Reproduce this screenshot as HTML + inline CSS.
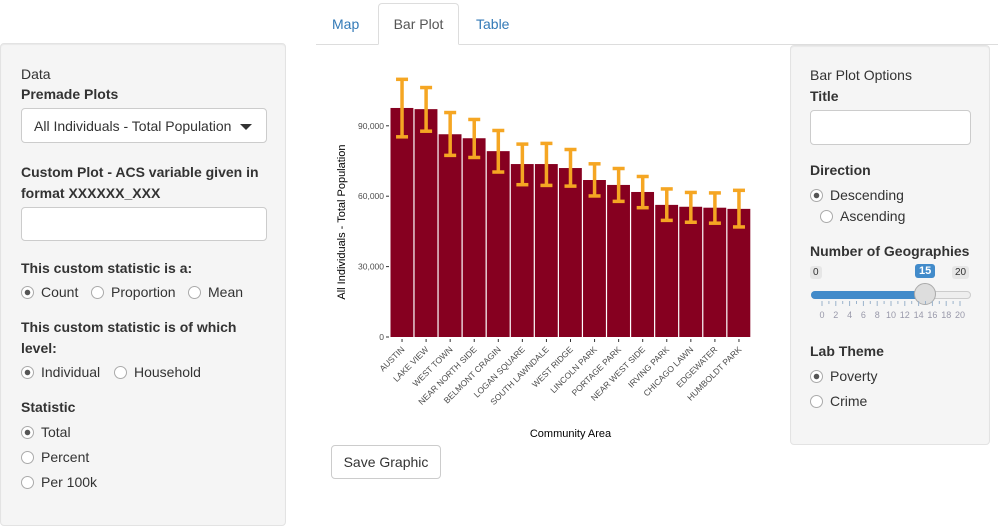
<!DOCTYPE html>
<html><head><meta charset="utf-8">
<style>
*{box-sizing:border-box}
body{margin:0;width:998px;height:530px;position:relative;background:#fff;font-family:"Liberation Sans",Arial,sans-serif;font-size:14px;color:#333;overflow:hidden}
.abs{position:absolute}
.panel{position:absolute;background:#f5f5f5;border:1px solid #e3e3e3;border-radius:4px;box-shadow:inset 0 1px 1px rgba(0,0,0,.05)}
.lbl{position:absolute;font-weight:bold;font-size:14px;line-height:20px}
.txt{position:absolute;font-size:14px;line-height:20px}
.input{position:absolute;background:#fff;border:1px solid #ccc;border-radius:4px}
.radio{position:absolute;font-size:14px;line-height:20px;padding-left:20px}
.radio:before{content:"";position:absolute;left:0;top:4px;width:11px;height:11px;border-radius:50%;border:1px solid #aaa;background:#fff}
.radio.on:before{background:radial-gradient(circle,#555 0 2.5px,#fff 3px)}
.tab{position:absolute;top:4px;height:40px;line-height:40px;font-size:14px;color:#337ab7}
</style></head><body>
<div class="abs" style="left:316px;top:44px;width:682px;height:1px;background:#ddd"></div>
<div class="tab" style="left:332px">Map</div>
<div class="abs" style="left:378px;top:3px;width:81px;height:42px;border:1px solid #ddd;border-bottom-color:#fff;border-radius:4px 4px 0 0;background:#fff;color:#555;text-align:center;line-height:40px">Bar Plot</div>
<div class="tab" style="left:476px">Table</div>

<div class="panel" style="left:0;top:43px;width:286px;height:483px">
<div class="txt" style="left:20px;top:20px">Data</div>
<div class="lbl" style="left:20px;top:40px">Premade Plots</div>
<div class="input" style="left:20px;top:64px;width:246px;height:35px;padding:8px 12px;line-height:18px">All Individuals - Total Population<span style="position:absolute;right:14px;top:15px;border-left:6px solid transparent;border-right:6px solid transparent;border-top:6px solid #333"></span></div>
<div class="lbl" style="left:20px;top:118px;width:250px;line-height:21px">Custom Plot - ACS variable given in format XXXXXX_XXX</div>
<div class="input" style="left:20px;top:163px;width:246px;height:34px"></div>
<div class="lbl" style="left:20px;top:214px">This custom statistic is a:</div>
<div class="radio on" style="left:20px;top:238px">Count</div>
<div class="radio" style="left:90px;top:238px">Proportion</div>
<div class="radio" style="left:187px;top:238px">Mean</div>
<div class="lbl" style="left:20px;top:273px;width:250px;line-height:21px">This custom statistic is of which level:</div>
<div class="radio on" style="left:20px;top:318px">Individual</div>
<div class="radio" style="left:113px;top:318px">Household</div>
<div class="lbl" style="left:20px;top:353px">Statistic</div>
<div class="radio on" style="left:20px;top:378px">Total</div>
<div class="radio" style="left:20px;top:403px">Percent</div>
<div class="radio" style="left:20px;top:428px">Per 100k</div>
</div>

<div class="panel" style="left:790px;top:45px;width:200px;height:400px">
<div class="txt" style="left:19px;top:19px">Bar Plot Options</div>
<div class="lbl" style="left:19px;top:40px">Title</div>
<div class="input" style="left:19px;top:64px;width:161px;height:35px"></div>
<div class="lbl" style="left:19px;top:114px">Direction</div>
<div class="radio on" style="left:19px;top:139px">Descending</div>
<div class="radio" style="left:29px;top:160px">Ascending</div>
<div class="lbl" style="left:19px;top:195px">Number of Geographies</div>
<div class="abs" style="left:19px;top:220px;background:#e6e6e6;font-size:10px;padding:1px 3px;border-radius:3px;color:#333">0</div>
<div class="abs" style="left:161px;top:220px;background:#e6e6e6;font-size:10px;padding:1px 3px;border-radius:3px;color:#333">20</div>
<div class="abs" style="left:124px;top:218px;background:#428bca;color:#fff;font-size:11px;font-weight:bold;padding:1px 4px;border-radius:3px">15</div>
<div class="abs" style="left:20px;top:245px;width:160px;height:8px;border-radius:4px;background:#eee;border:1px solid #ccc"></div>
<div class="abs" style="left:20px;top:245px;width:113px;height:8px;border-radius:4px 0 0 4px;background:#428bca"></div>
<div class="abs" style="left:123px;top:237px;width:22px;height:22px;border-radius:50%;background:#ddd;border:1px solid #aaa"></div>
<svg class="abs" id="sl" style="left:0;top:255px" width="200" height="22"></svg>
<div class="lbl" style="left:19px;top:295px">Lab Theme</div>
<div class="radio on" style="left:19px;top:320px">Poverty</div>
<div class="radio" style="left:19px;top:345px">Crime</div>
</div>

<svg class="abs" id="chart" style="left:0;top:0" width="998" height="450"></svg>

<div class="abs" style="left:331px;top:445px;width:110px;height:34px;border:1px solid #ccc;border-radius:4px;background:#fff;text-align:center;line-height:32px">Save Graphic</div>

<script>
const categories=["AUSTIN","LAKE VIEW","WEST TOWN","NEAR NORTH SIDE","BELMONT CRAGIN","LOGAN SQUARE","SOUTH LAWNDALE","WEST RIDGE","LINCOLN PARK","PORTAGE PARK","NEAR WEST SIDE","IRVING PARK","CHICAGO LAWN","EDGEWATER","HUMBOLDT PARK"];
const values=[97600,97100,86400,84700,79200,73700,73700,72000,66900,64800,61800,56300,55500,55100,54600];
const errUpper=[109800,106300,95650,92700,88000,82200,82500,79900,73800,71800,68400,63100,61600,61400,62500];
const errLower=[85300,87700,77400,76500,70300,64900,64600,64300,60100,57800,55100,49700,48900,48500,46900];
const yTicks=[0,30000,60000,90000];
const yTickLabels=["0","30,000","60,000","90,000"];

const NS="http://www.w3.org/2000/svg";
// slider ticks
const sl=document.getElementById('sl');
for(let i=0;i<=20;i++){
  const x=31+i*6.9;
  const l=document.createElementNS(NS,'line');
  l.setAttribute('x1',x);l.setAttribute('x2',x);l.setAttribute('y1',0);l.setAttribute('y2',i%2?3:5);
  l.setAttribute('stroke','#9bb3cc');
  sl.appendChild(l);
  if(i%2===0){
    const t=document.createElementNS(NS,'text');
    t.setAttribute('x',x);t.setAttribute('y',17);t.setAttribute('text-anchor','middle');
    t.setAttribute('font-size','9');t.setAttribute('fill','#99a');t.setAttribute('font-family','Liberation Sans');
    t.textContent=i;sl.appendChild(t);
  }
}

const svg=document.getElementById('chart');
const X0=390,X1=751,Y0=337,YSCALE=70.4/30000;
const band=(X1-X0)/categories.length;
const xPos=i=>X0+i*band;
const yPos=v=>Y0-v*YSCALE;
function mk(tag,attrs){const e=document.createElementNS(NS,tag);for(const k in attrs)e.setAttribute(k,attrs[k]);svg.appendChild(e);return e;}

yTicks.forEach((t,i)=>{
  const l=mk('line',{x1:X0-4,x2:X0-1,y1:yPos(t),y2:yPos(t),stroke:'#333','stroke-width':1});
  
  
  const tx=mk('text',{x:X0-6,y:yPos(t)+3,'text-anchor':'end','font-size':8.5,fill:'#4d4d4d','font-family':'Liberation Sans'});
  tx.textContent=yTickLabels[i];
  
  
});

categories.forEach((c,i)=>{
  const x=xPos(i);
  const r=mk('rect',{x:x+0.5,y:yPos(values[i]),width:band-1.2,height:Y0-yPos(values[i]),fill:'#860020'});
  
  
  const cx=x+band/2;
  const g=document.createElementNS(NS,'g');
  
  
  g.setAttribute('stroke','#f5a623');g.setAttribute('stroke-width','3.5');
  svg.appendChild(g);
  [[cx,yPos(errUpper[i]),cx,yPos(errLower[i])],[cx-6,yPos(errUpper[i]),cx+6,yPos(errUpper[i])],[cx-6,yPos(errLower[i]),cx+6,yPos(errLower[i])]].forEach(p=>{
    const l=document.createElementNS(NS,'line');
    l.setAttribute('x1',p[0]);l.setAttribute('y1',p[1]);l.setAttribute('x2',p[2]);l.setAttribute('y2',p[3]);
    g.appendChild(l);
  });
  const tk=mk('line',{x1:cx,x2:cx,y1:Y0+2,y2:Y0+5,stroke:'#333','stroke-width':1});
  
  
  const t=mk('text',{x:cx+3,y:Y0+13,'text-anchor':'end','font-size':8.5,fill:'#4d4d4d','font-family':'Liberation Sans',transform:`rotate(-45 ${cx+3} ${Y0+13})`});
  t.textContent=c;
  
  
});

const xt=mk('text',{x:(X0+X1)/2,y:437,'text-anchor':'middle','font-size':11,fill:'#000','font-family':'Liberation Sans'});
xt.textContent='Community Area';


const yt=mk('text',{x:0,y:0,'text-anchor':'middle','font-size':11,fill:'#000','font-family':'Liberation Sans',transform:`translate(345 ${(yPos(115000)+Y0)/2+20}) rotate(-90)`});
yt.textContent='All Individuals - Total Population';


</script>
</body></html>
